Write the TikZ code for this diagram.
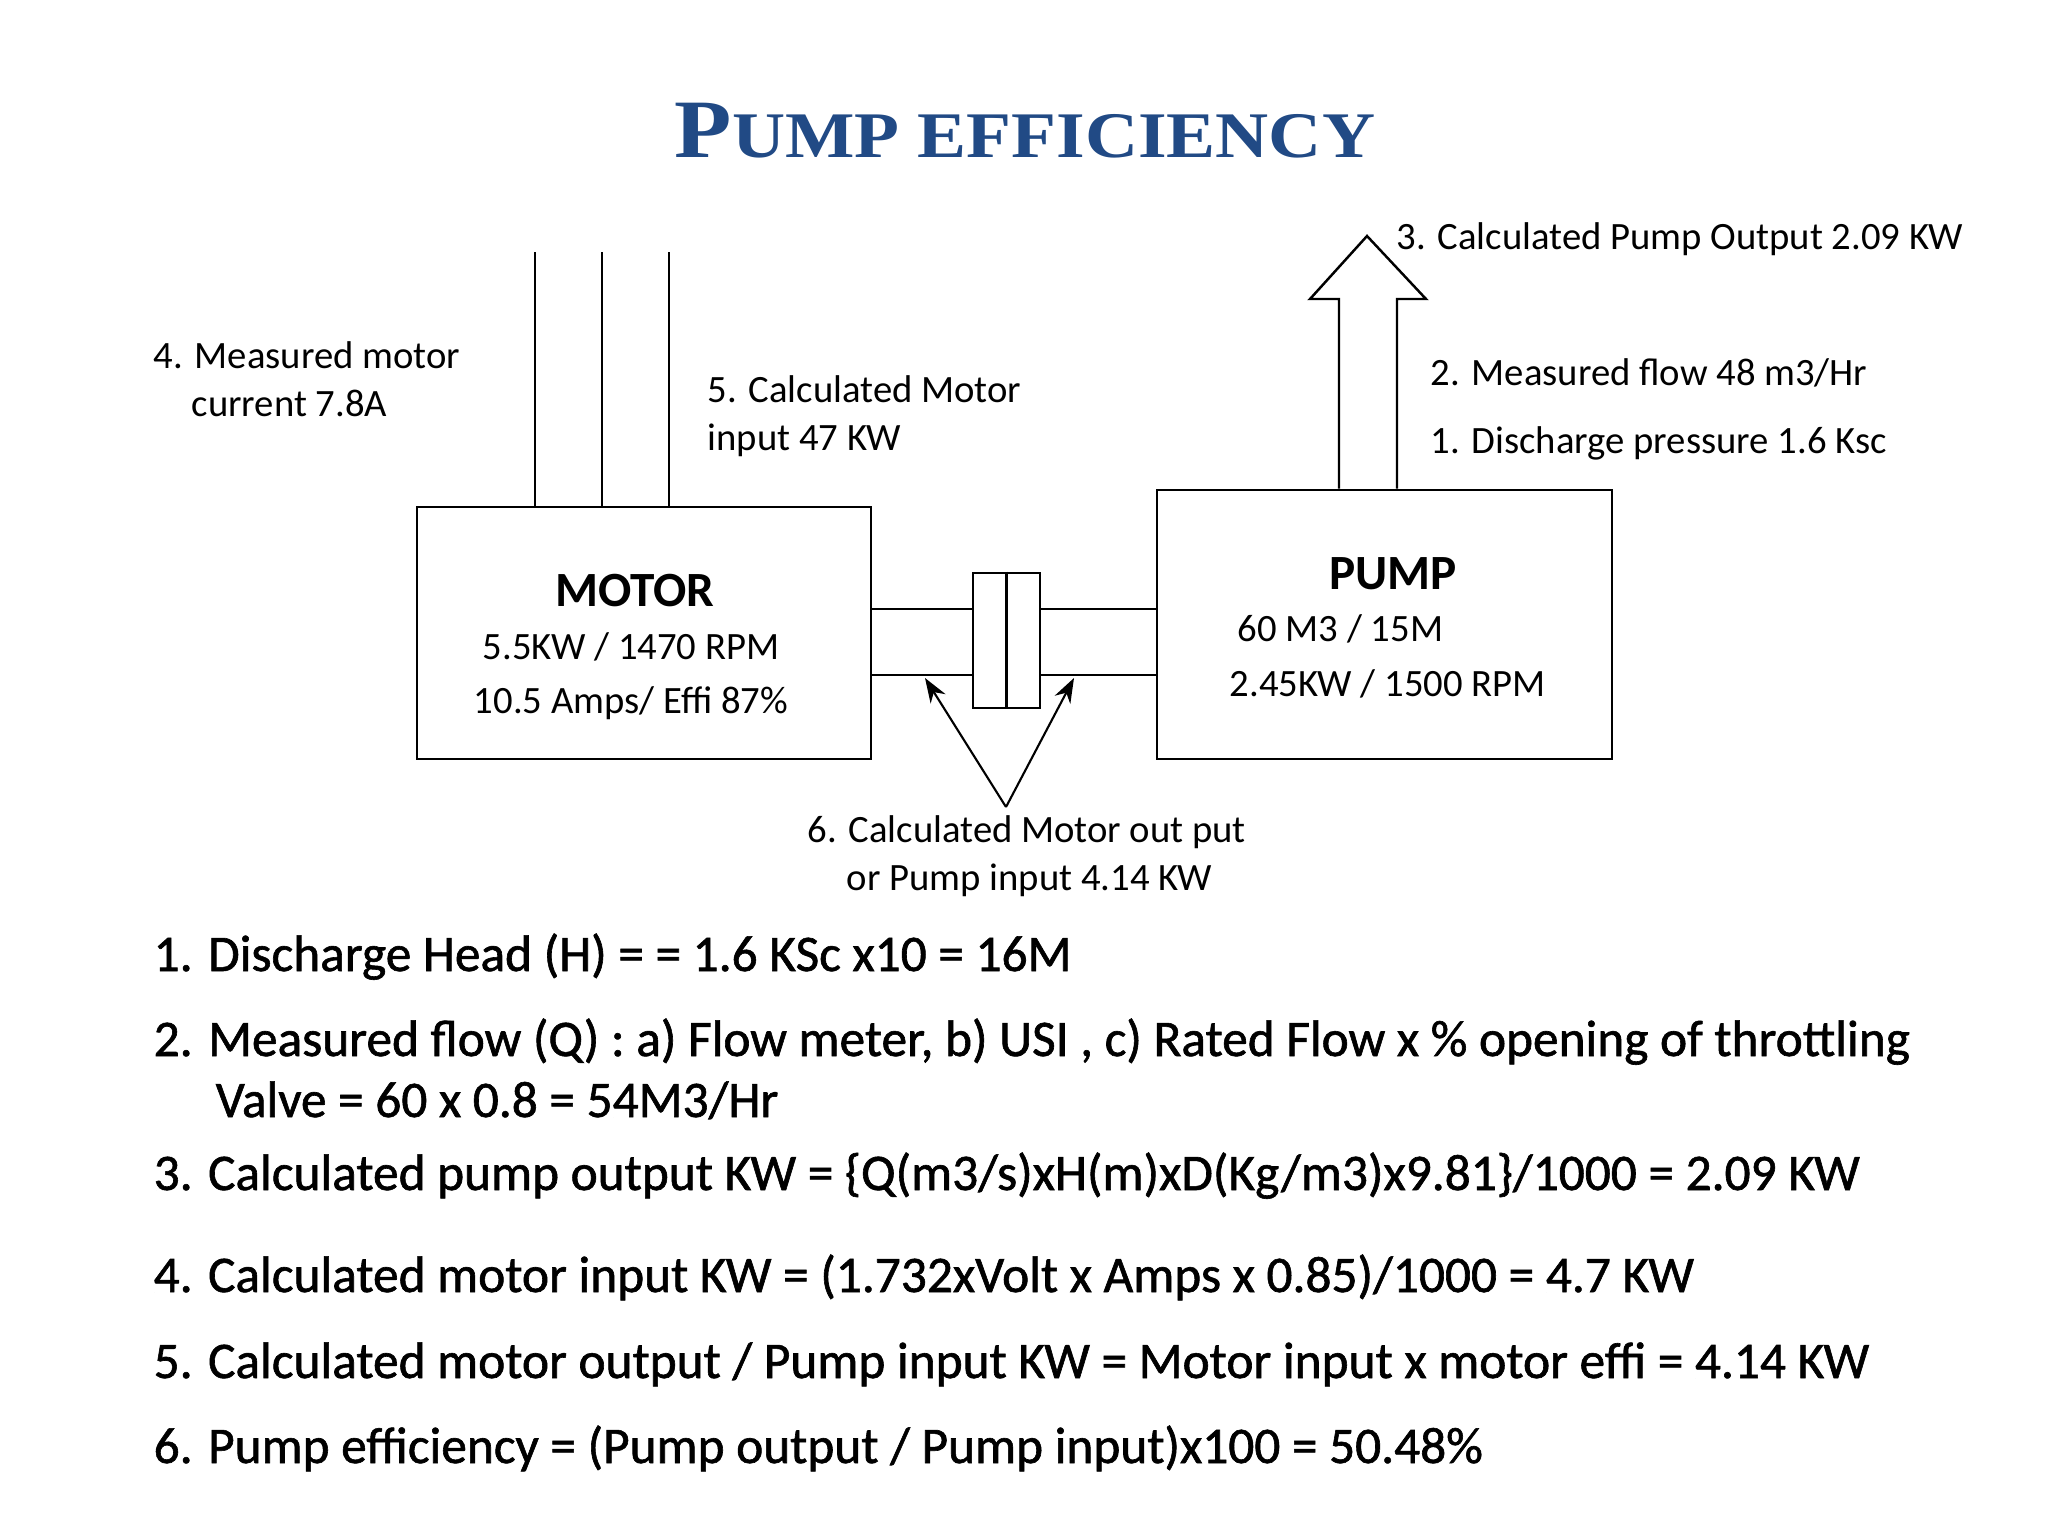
\documentclass[tikz,border=0pt]{standalone}
\usepackage{fontspec}
\usepackage{tikz}
\setmainfont{Carlito}
\newfontfamily\listfont[FakeBold=1.2]{Carlito}
\newfontfamily\titlefont{Liberation Serif}
\definecolor{titleblue}{RGB}{33, 74, 133}
\usetikzlibrary{arrows.meta, positioning, calc}

\begin{document}
\begin{tikzpicture}[
    x=0.01cm, y=-0.01cm,
    unit/.style={draw, line width=0.7pt, minimum width=#1},
    lbl/.style={font=\fontsize{11}{13}\selectfont, anchor=base west, inner sep=0pt},
    eqn/.style={font=\listfont\fontsize{14.6}{17}\selectfont, anchor=base west, inner sep=0pt},
    link/.style={line width=0.7pt},
    pointer/.style={line width=0.6pt, -{Stealth[length=7pt, width=5pt]}}
]
    \useasboundingbox (0,0) rectangle (2048,1536);

    \node[text=titleblue, inner sep=0pt] (title) at (1025,131) {\scalebox{1.13}[1]{\titlefont\bfseries
        {\fontsize{23.6}{26}\selectfont P}{\fontsize{18.5}{22}\selectfont UMP EFFICIENCY}}};

    \node[unit=4.54cm, minimum height=2.52cm] (motor) at (644,633) {};
    \node[unit=4.55cm, minimum height=2.69cm] (pump) at (1384.5,624.5) {};
    \node[unit=0.67cm, minimum height=1.35cm] (coupling) at (1006.5,640.5) {};
    \draw[link] (coupling.north) -- (coupling.south);

    \node[font=\fontsize{14}{16}\selectfont\bfseries, anchor=base, inner sep=0pt] (motorname) at (635,606) {MOTOR};
    \node[font=\fontsize{11}{13}\selectfont, anchor=base, inner sep=0pt] (motorrate) at (631,659) {5.5KW / 1470 RPM};
    \node[font=\fontsize{11}{13}\selectfont, anchor=base, inner sep=0pt] (motoramps) at (631,713) {10.5 Amps/ Effi 87\%};

    \node[font=\fontsize{14}{16}\selectfont\bfseries, anchor=base, inner sep=0pt] (pumpname) at (1393,589) {PUMP};
    \node[lbl] (pumpflow) at (1237,641) {60 M3 / 15M};
    \node[lbl] (pumprate) at (1229,696) {2.45KW / 1500 RPM};

    % supply leads
    \foreach \lx [count=\i] in {535,602,669} {
        \coordinate (lead\i) at (\lx,252);
        \draw[link] (lead\i) -- (lead\i |- motor.north);
    }

    % shaft
    \draw[link] (motor.east |- 0,609) -- (coupling.west |- 0,609);
    \draw[link] (motor.east |- 0,675) -- (coupling.west |- 0,675);
    \draw[link] (coupling.east |- 0,609) -- (pump.west |- 0,609);
    \draw[link] (coupling.east |- 0,675) -- (pump.west |- 0,675);

    % discharge arrow
    \coordinate (tip) at (1367,236);
    \draw[link] (1339,0 |- pump.north) -- (1339,299) -- (1310,299) -- (tip)
        -- (1426,299) -- (1397,299) -- (1397,0 |- pump.north);

    \node[lbl] (pumpout) at (1396,249) {3. Calculated Pump Output 2.09 KW};
    \node[lbl] (flow) at (1430,385) {2. Measured flow 48 m3/Hr};
    \node[lbl] (press) at (1430,453) {1. Discharge pressure 1.6 Ksc};

    \node[lbl] (currA) at (153,368) {4. Measured motor};
    \node[lbl] (currB) at (191,416) {current 7.8A};
    \node[lbl] (motinA) at (707,402) {5. Calculated Motor};
    \node[lbl] (motinB) at (707,450) {input 47 KW};

    \node[lbl] (shaftA) at (807,842) {6. Calculated Motor out put};
    \node[lbl] (shaftB) at (846,890) {or Pump input 4.14 KW};
    \coordinate (apex) at (1006,807);
    \draw[pointer] (apex) -- (925,678);
    \draw[pointer] (apex) -- (1074,678);

    \node[eqn] (eq1) at (153,971) {1. Discharge Head (H) = = 1.6 KSc x10 = 16M};
    \node[eqn] (eq2) at (153,1056) {2. Measured flow (Q) : a) Flow meter, b) USI , c) Rated Flow x \% opening of throttling};
    \node[eqn] (eq2b) at (215,1117) {Valve = 60 x 0.8 = 54M3/Hr};
    \node[eqn] (eq3) at (153,1190) {3. Calculated pump output KW = \{Q(m3/s)xH(m)xD(Kg/m3)x9.81\}/1000 = 2.09 KW};
    \node[eqn] (eq4) at (153,1292) {4. Calculated motor input KW = (1.732xVolt x Amps x 0.85)/1000 = 4.7 KW};
    \node[eqn] (eq5) at (153,1378) {5. Calculated motor output / Pump input KW = Motor input x motor effi = 4.14 KW};
    \node[eqn] (eq6) at (153,1463) {6. Pump efficiency = (Pump output / Pump input)x100 = 50.48\%};
\end{tikzpicture}
\end{document}
